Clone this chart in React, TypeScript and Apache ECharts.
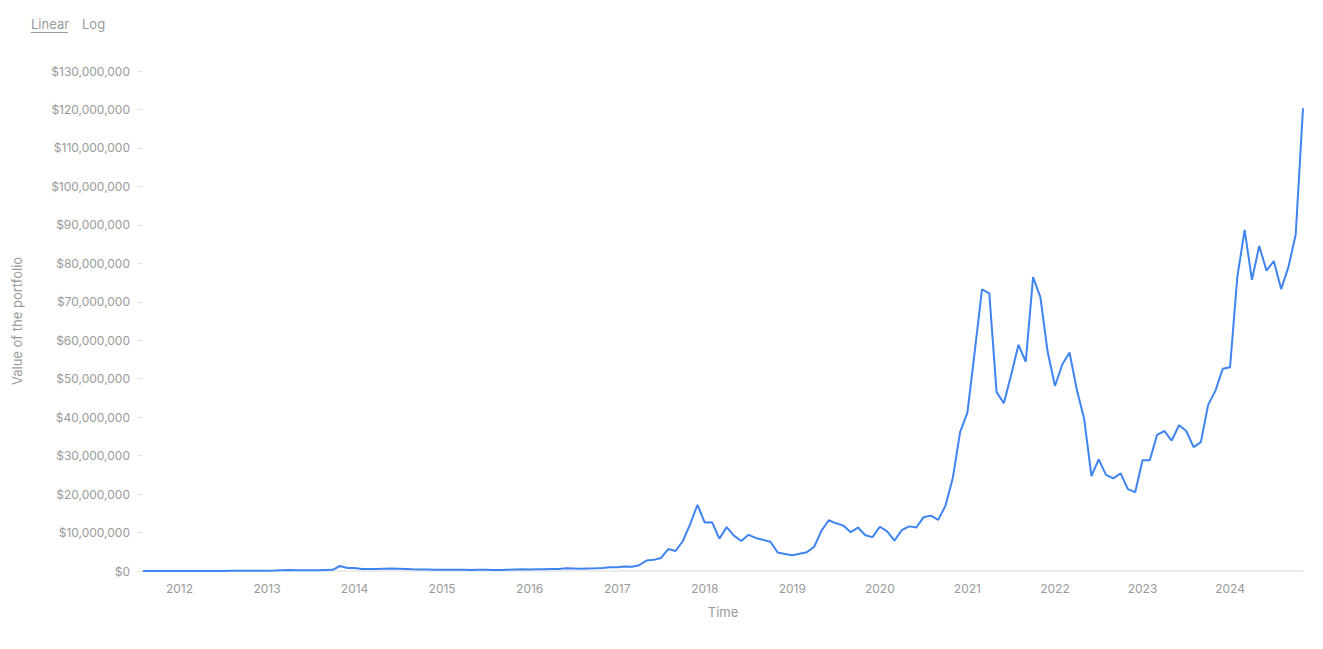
import React, { useEffect, useRef } from "react";
import * as echarts from "echarts";

// Monthly portfolio value in millions of USD, Aug 2011 – Nov 2024
const values2011 = [0.01, 0.01, 0.01, 0.01, 0.01];
const values2012 = [0.01, 0.02, 0.02, 0.02, 0.02, 0.02, 0.03, 0.04, 0.05, 0.05, 0.05, 0.06];
const values2013 = [0.08, 0.12, 0.2, 0.25, 0.2, 0.2, 0.18, 0.2, 0.25, 0.3, 1.3, 0.8];
const values2014 = [0.8, 0.55, 0.5, 0.5, 0.6, 0.65, 0.6, 0.55, 0.45, 0.4, 0.4, 0.35];
const values2015 = [0.3, 0.3, 0.3, 0.3, 0.28, 0.3, 0.3, 0.28, 0.28, 0.35, 0.4, 0.45];
const values2016 = [0.42, 0.45, 0.45, 0.5, 0.55, 0.7, 0.65, 0.6, 0.65, 0.7, 0.8, 1.0];
const values2017 = [1.0, 1.2, 1.1, 1.5, 2.7, 2.9, 3.4, 5.7, 5.2, 7.8, 12.2, 17.2];
const values2018 = [12.6, 12.7, 8.4, 11.4, 9.2, 7.8, 9.4, 8.6, 8.1, 7.6, 4.8, 4.4];
const values2019 = [4.1, 4.5, 4.9, 6.3, 10.5, 13.2, 12.4, 11.8, 10.1, 11.3, 9.3, 8.8];
const values2020 = [11.5, 10.3, 7.9, 10.6, 11.6, 11.3, 14.0, 14.4, 13.3, 17.0, 24.2, 36.1];
const values2021 = [41.2, 57, 73.2, 72.2, 46.5, 43.6, 51, 58.8, 54.4, 76.4, 71.2, 57];
const values2022 = [48.1, 53.7, 56.8, 47.1, 39.6, 24.7, 29.0, 25.0, 24.1, 25.4, 21.3, 20.5];
const values2023 = [28.8, 28.8, 35.4, 36.4, 33.9, 37.9, 36.4, 32.2, 33.5, 43.2, 46.9, 52.6];
const values2024 = [53.0, 76.5, 88.7, 75.7, 84.5, 78.1, 80.6, 73.3, 79.0, 87.5, 120.3];

const seriesValues = [
  ...values2011, ...values2012, ...values2013, ...values2014, ...values2015,
  ...values2016, ...values2017, ...values2018, ...values2019, ...values2020,
  ...values2021, ...values2022, ...values2023, ...values2024,
];

const startYear = 2011;
const startMonth = 8;
const categories: string[] = seriesValues.map((_, i) => {
  const m = startMonth - 1 + i;
  const y = startYear + Math.floor(m / 12);
  const mm = (m % 12) + 1;
  return `${y}-${mm < 10 ? "0" + mm : mm}`;
});

const yMax = 130;
const yInterval = 10;
const yAxisTitle = "Value of the portfolio";
const xAxisTitle = "Time";
const scaleOptions = ["Linear", "Log"];

const FONT = "Inter, 'Noto Sans', sans-serif";
const GRAY = "#9a9a9a";

export default function App() {
  const ref = useRef<HTMLDivElement>(null);
  useEffect(() => {
    document.body.style.margin = "0";
    if (!ref.current) return;
    const chart = echarts.init(ref.current, null, { renderer: "svg" });
    chart.setOption({
      animation: false,
      backgroundColor: "#ffffff",
      textStyle: { fontFamily: FONT },
      grid: {
        left: 143,
        right: 20,
        top: 71,
        bottom: 78,
        containLabel: false,
        outerBoundsMode: "none",
      },
      graphic: [
        {
          type: "text",
          left: 31,
          top: 17,
          style: { text: scaleOptions[0], fill: GRAY, font: `13px ${FONT}` },
        },
        {
          type: "line",
          shape: { x1: 31, y1: 32.5, x2: 68, y2: 32.5 },
          style: { stroke: GRAY, lineWidth: 1 },
        },
        {
          type: "text",
          left: 82,
          top: 17,
          style: { text: scaleOptions[1], fill: GRAY, font: `13px ${FONT}` },
        },
      ],
      xAxis: {
        type: "category",
        data: categories,
        boundaryGap: false,
        name: xAxisTitle,
        nameLocation: "middle",
        nameGap: 34,
        nameTextStyle: { color: GRAY, fontSize: 13, fontFamily: FONT },
        axisLine: { show: true, lineStyle: { color: "#ececec", width: 2 } },
        axisTick: { show: false },
        splitLine: { show: false },
        axisLabel: {
          color: GRAY,
          fontSize: 12,
          fontFamily: FONT,
          margin: 11,
          interval: (_idx: number, val: string) => val.endsWith("-01"),
          formatter: (val: string) => val.slice(0, 4),
        },
      },
      yAxis: {
        type: "value",
        min: 0,
        max: yMax,
        interval: yInterval,
        name: yAxisTitle,
        nameLocation: "middle",
        nameGap: 120,
        nameTextStyle: { color: GRAY, fontSize: 13, fontFamily: FONT },
        axisLine: { show: false },
        axisTick: { show: true, length: 6, lineStyle: { color: "#e6e6e6" } },
        splitLine: { show: false },
        axisLabel: {
          color: GRAY,
          fontSize: 12,
          fontFamily: FONT,
          margin: 13,
          formatter: (v: number) => "$" + Math.round(v * 1e6).toLocaleString("en-US"),
        },
      },
      series: [
        {
          type: "line",
          data: seriesValues,
          showSymbol: false,
          symbol: "none",
          lineStyle: { color: "#3f84f0", width: 2 },
          itemStyle: { color: "#3f84f0" },
        },
      ],
    });
    return () => chart.dispose();
  }, []);
  return <div ref={ref} style={{ width: 1323, height: 649 }} />;
}
